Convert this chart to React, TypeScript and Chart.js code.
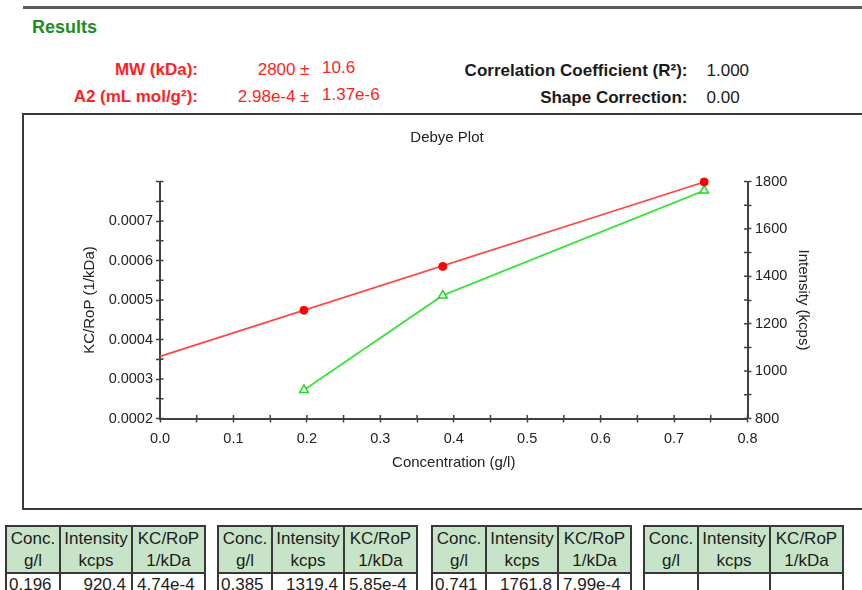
import React, { useEffect, useRef } from "react";
import { Chart, registerables } from "chart.js";

Chart.register(...registerables);

// ---- measured data ----
const concentrations = [0.196, 0.385, 0.741]; // g/l
const intensities = [920.4, 1319.4, 1761.8]; // kcps
const kcRop = [4.74e-4, 5.85e-4, 7.99e-4]; // 1/kDa

// ---- fit results ----
const mwKDa = 2800;
const mwErr = "10.6";
const a2 = 2.98e-4;
const a2Err = "1.37e-6";
const r2Text = "1.000";
const shapeCorrectionText = "0.00";
const fitRange = [0, 0.741];

// ---- axis tick labels (every other tick carries a label) ----
const xTickLabels = ["0.0", "0.1", "0.2", "0.3", "0.4", "0.5", "0.6", "0.7", "0.8"];
const yTickLabels = ["0.0002", "0.0003", "0.0004", "0.0005", "0.0006", "0.0007"];
const y2TickLabels = ["800", "1000", "1200", "1400", "1600", "1800"];

const tableHeaders = [
  ["Conc.", "g/l"],
  ["Intensity", "kcps"],
  ["KC/RoP", "1/kDa"],
];

const FONT = '"Liberation Sans", Arial, Helvetica, sans-serif';
const INK = "#222222";
const AXIS = "#404040";
const RED = "#ff1f1f";

const labelEveryOther = (labels: string[]) => (_v: unknown, index: number) =>
  index % 2 === 0 ? labels[index / 2] ?? "" : "";

// Tick marks that cross the axis line: Chart.js draws the outer half,
// this adds the inner half at every tick of the three axes.
const crossTicks = {
  id: "crossTicks",
  afterDraw(chart: any) {
    const { ctx, chartArea, scales } = chart;
    const len = 3.5;
    ctx.save();
    ctx.strokeStyle = AXIS;
    ctx.lineWidth = 1.5;
    ctx.beginPath();
    scales.x.ticks.forEach((_t: unknown, i: number) => {
      const px = scales.x.getPixelForTick(i);
      ctx.moveTo(px, chartArea.bottom);
      ctx.lineTo(px, chartArea.bottom - len);
    });
    scales.y.ticks.forEach((_t: unknown, i: number) => {
      const py = scales.y.getPixelForTick(i);
      ctx.moveTo(chartArea.left, py);
      ctx.lineTo(chartArea.left + len, py);
    });
    scales.y2.ticks.forEach((_t: unknown, i: number) => {
      const py = scales.y2.getPixelForTick(i);
      ctx.moveTo(chartArea.right, py);
      ctx.lineTo(chartArea.right - len, py);
    });
    ctx.stroke();
    ctx.restore();
  },
};

function DataTable({ left, row }: { left: number; row: string[] | null }) {
  const border = `2px solid #383838`;
  const head: React.CSSProperties = {
    border,
    background: "#c8e4c8",
    textAlign: "center",
    lineHeight: "22px",
    height: 44,
    padding: "1px 0 0 0",
    verticalAlign: "top",
    whiteSpace: "nowrap",
    overflow: "hidden",
  };
  const body: React.CSSProperties = {
    border,
    lineHeight: "20px",
    height: 22,
    padding: "0 4px",
    whiteSpace: "nowrap",
    overflow: "hidden",
    background: "#fff",
  };
  return (
    <table
      style={{
        position: "absolute",
        left,
        top: 525,
        borderCollapse: "collapse",
        tableLayout: "fixed",
        width: 199,
        font: `17px ${FONT}`,
        color: "#1c1c1c",
      }}
    >
      <colgroup>
        <col style={{ width: 54 }} />
        <col style={{ width: 72 }} />
        <col style={{ width: 73 }} />
      </colgroup>
      <tbody>
        <tr>
          {tableHeaders.map(([a, b]) => (
            <td key={a} style={head}>
              {a}
              <br />
              {b}
            </td>
          ))}
        </tr>
        <tr>
          <td style={{ ...body, textAlign: "left", paddingLeft: 2 }}>{row ? row[0] : ""}</td>
          <td style={{ ...body, textAlign: "right", paddingRight: 5 }}>{row ? row[1] : ""}</td>
          <td style={{ ...body, textAlign: "left" }}>{row ? row[2] : ""}</td>
        </tr>
      </tbody>
    </table>
  );
}

export default function App() {
  const canvasRef = useRef<HTMLCanvasElement>(null);

  useEffect(() => {
    const canvas = canvasRef.current;
    if (!canvas) return;

    const kcPoints = concentrations.map((c, i) => ({ x: c, y: kcRop[i] }));
    const intensityPoints = concentrations.map((c, i) => ({ x: c, y: intensities[i] }));
    // Debye fit: KC/R = 1/Mw + 2·A2·c
    const fitLine = fitRange.map((c) => ({ x: c, y: 1 / mwKDa + 2 * a2 * c }));

    const tickFont = { family: FONT, size: 14.5 };
    const titleFont = { family: FONT, size: 15 };
    const grid = {
      drawOnChartArea: false,
      drawTicks: true,
      tickLength: 4,
      tickColor: AXIS,
      tickWidth: 1.5,
    };
    const border = { display: true, color: AXIS, width: 2 };

    const chart = new Chart(canvas, {
      type: "line",
      data: {
        datasets: [
          {
            label: "KC/RoP",
            data: kcPoints,
            yAxisID: "y",
            showLine: false,
            clip: false,
            pointStyle: "circle",
            pointRadius: 4,
            pointBackgroundColor: "#ff0000",
            pointBorderColor: "#ff0000",
            pointBorderWidth: 1,
          },
          {
            label: "Fit",
            data: fitLine,
            yAxisID: "y",
            clip: false,
            borderColor: "#ff4646",
            borderWidth: 1.8,
            pointRadius: 0,
            tension: 0,
          },
          {
            label: "Intensity",
            data: intensityPoints,
            yAxisID: "y2",
            clip: false,
            borderColor: "#3fe33f",
            borderWidth: 1.8,
            pointStyle: "triangle",
            pointRadius: 5,
            pointBackgroundColor: "#ffffff",
            pointBorderColor: "#22d622",
            pointBorderWidth: 1.5,
            tension: 0,
          },
        ],
      },
      options: {
        animation: false,
        responsive: false,
        devicePixelRatio: 1,
        events: [],
        layout: { padding: 0 },
        plugins: {
          legend: { display: false },
          tooltip: { enabled: false },
          title: {
            display: true,
            text: "Debye Plot",
            color: INK,
            font: { ...titleFont, weight: "normal" },
            padding: { top: 13.5, bottom: 35 },
          },
        },
        scales: {
          x: {
            type: "linear",
            position: "bottom",
            min: 0,
            max: 0.8,
            ticks: {
              stepSize: 0.05,
              autoSkip: false,
              maxRotation: 0,
              padding: 7.8,
              color: INK,
              font: tickFont,
              callback: labelEveryOther(xTickLabels),
            },
            grid,
            border,
            title: {
              display: true,
              text: "Concentration (g/l)",
              color: INK,
              font: titleFont,
              padding: { top: 0, bottom: 36 },
            },
            afterFit: (s: any) => {
              s.height = 89.5;
            },
          },
          y: {
            type: "linear",
            position: "left",
            min: 0.0002,
            max: 0.0008,
            ticks: {
              stepSize: 0.00005,
              autoSkip: false,
              padding: 3,
              color: INK,
              font: tickFont,
              callback: labelEveryOther(yTickLabels),
            },
            grid,
            border,
            title: {
              display: true,
              text: "KC/RoP (1/kDa)",
              color: INK,
              font: titleFont,
              padding: { top: 57, bottom: 0 },
            },
            afterFit: (s: any) => {
              s.width = 136;
            },
          },
          y2: {
            type: "linear",
            position: "right",
            min: 800,
            max: 1800,
            ticks: {
              stepSize: 100,
              autoSkip: false,
              padding: 3.5,
              color: INK,
              font: tickFont,
              callback: labelEveryOther(y2TickLabels),
            },
            grid,
            border,
            title: {
              display: true,
              text: "Intensity (kcps)",
              color: INK,
              font: titleFont,
              padding: { top: 58, bottom: 0 },
            },
            afterFit: (s: any) => {
              s.width = 122.5;
            },
          },
        },
      },
      plugins: [crossTicks],
    } as any);

    return () => chart.destroy();
  }, []);

  const rows = concentrations.map((c, i) => [
    c.toFixed(3),
    intensities[i].toFixed(1),
    kcRop[i].toExponential(2),
  ]);

  const bold17: React.CSSProperties = {
    position: "absolute",
    font: `bold 17px ${FONT}`,
    lineHeight: "20px",
    whiteSpace: "nowrap",
  };
  const reg17: React.CSSProperties = {
    position: "absolute",
    font: `17px ${FONT}`,
    lineHeight: "20px",
    whiteSpace: "nowrap",
  };

  return (
    <div
      style={{
        position: "fixed",
        left: 0,
        top: 0,
        width: 862,
        height: 590,
        overflow: "hidden",
        background: "#ffffff",
        fontFamily: FONT,
      }}
    >
      {/* section rule */}
      <div style={{ position: "absolute", left: 23, top: 6, width: 860, height: 3, background: "#5a5a5a" }} />

      <div
        style={{
          position: "absolute",
          left: 32,
          top: 16,
          font: `bold 18px ${FONT}`,
          lineHeight: "22px",
          color: "#1f8c1f",
        }}
      >
        Results
      </div>

      {/* molecular weight and second virial coefficient */}
      <div style={{ ...bold17, right: 664, top: 60, color: RED }}>MW (kDa):</div>
      <div style={{ ...reg17, right: 566.5, top: 60, color: RED }}>{String(mwKDa)}</div>
      <div style={{ ...reg17, left: 300, top: 60, color: RED }}>±</div>
      <div style={{ ...reg17, left: 322, top: 58, color: RED }}>{mwErr}</div>

      <div style={{ ...bold17, right: 664, top: 87, color: RED }}>
        A2 (mL mol/g²):
      </div>
      <div style={{ ...reg17, right: 566.5, top: 87, color: RED }}>{a2.toExponential(2)}</div>
      <div style={{ ...reg17, left: 300, top: 87, color: RED }}>±</div>
      <div style={{ ...reg17, left: 322, top: 85, color: RED }}>{a2Err}</div>

      {/* fit quality */}
      <div style={{ ...bold17, right: 174.5, top: 61, color: "#1a1a1a" }}>
        Correlation Coefficient (R²):
      </div>
      <div style={{ ...reg17, left: 706.5, top: 61, color: "#1a1a1a" }}>{r2Text}</div>
      <div style={{ ...bold17, right: 174.5, top: 88, color: "#1a1a1a" }}>Shape Correction:</div>
      <div style={{ ...reg17, left: 706.5, top: 88, color: "#1a1a1a" }}>{shapeCorrectionText}</div>

      {/* Debye plot frame */}
      <div
        style={{
          position: "absolute",
          left: 22,
          top: 113,
          width: 860,
          height: 397,
          border: "2px solid #3a3a3a",
          boxSizing: "border-box",
        }}
      />
      <canvas
        ref={canvasRef}
        width={846}
        height={393}
        style={{ position: "absolute", left: 24, top: 115, width: 846, height: 393 }}
      />

      {/* per-measurement tables */}
      <DataTable left={5} row={rows[0]} />
      <DataTable left={217} row={rows[1]} />
      <DataTable left={431} row={rows[2]} />
      <DataTable left={643} row={null} />
    </div>
  );
}
